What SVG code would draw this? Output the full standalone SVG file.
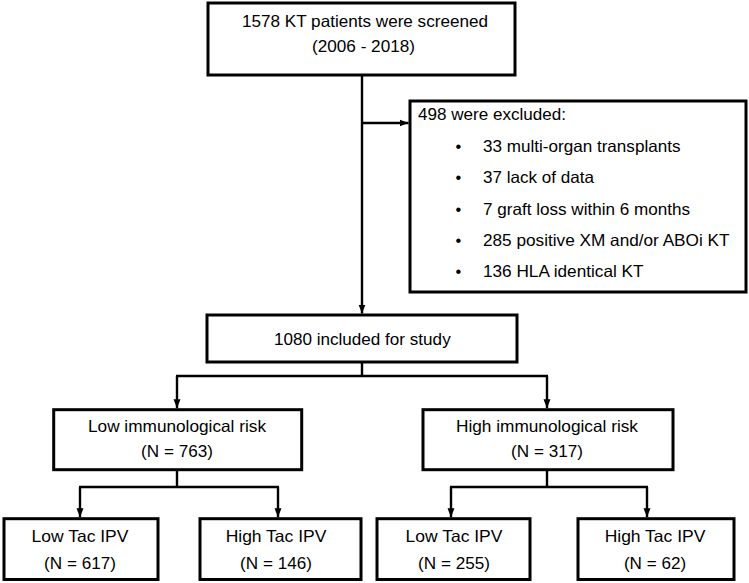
<svg xmlns="http://www.w3.org/2000/svg" width="749" height="583" viewBox="0 0 749 583">
<style>
.box{fill:#fff;stroke:#000;stroke-width:3}
.t{font-family:"Liberation Sans",Arial,sans-serif;font-size:16.5px;fill:#000}
.c{text-anchor:middle}
.ln{stroke:#000;stroke-width:2.4;fill:none}
</style>
<defs>
<marker id="ah" markerWidth="9" markerHeight="8" refX="9" refY="4" orient="auto" markerUnits="userSpaceOnUse"><path d="M0,0.5 L9,4 L0,7.5 z" fill="#000"/></marker>
</defs>
<rect width="749" height="583" fill="#fff"/>
<g id="connectors">
<path class="ln" d="M362,75 V313.5" marker-end="url(#ah)"/>
<path class="ln" d="M362,123 H408.5" marker-end="url(#ah)"/>
<path class="ln" d="M362,362 V376 M176,376 H548"/>
<path class="ln" d="M177,376 V408.2" marker-end="url(#ah)"/>
<path class="ln" d="M547,376 V408.2" marker-end="url(#ah)"/>
<path class="ln" d="M177,470 V487 M79,487 H279"/>
<path class="ln" d="M80,487 V517.2" marker-end="url(#ah)"/>
<path class="ln" d="M278,487 V517.2" marker-end="url(#ah)"/>
<path class="ln" d="M547,470 V487 M450,487 H648"/>
<path class="ln" d="M451,487 V517.2" marker-end="url(#ah)"/>
<path class="ln" d="M647,487 V517.2" marker-end="url(#ah)"/>
</g>
<g id="screened">
<rect class="box" x="208" y="3" width="307" height="72"/>
<text class="t c" x="365" y="26.5" textLength="246" lengthAdjust="spacingAndGlyphs">1578 KT patients were screened</text>
<text class="t c" x="363.5" y="52" textLength="103" lengthAdjust="spacingAndGlyphs">(2006 - 2018)</text>
</g>
<g id="excluded">
<rect class="box" x="410" y="101" width="336" height="191"/>
<text class="t" x="418" y="120" textLength="148" lengthAdjust="spacingAndGlyphs">498 were excluded:</text>
<text class="t c" x="458.5" y="151.5">•</text>
<text class="t" x="483" y="151.5" textLength="197.5" lengthAdjust="spacingAndGlyphs">33 multi-organ transplants</text>
<text class="t c" x="458.5" y="183">•</text>
<text class="t" x="483" y="183" textLength="111" lengthAdjust="spacingAndGlyphs">37 lack of data</text>
<text class="t c" x="458.5" y="214.5">•</text>
<text class="t" x="483" y="214.5" textLength="207" lengthAdjust="spacingAndGlyphs">7 graft loss within 6 months</text>
<text class="t c" x="458.5" y="246">•</text>
<text class="t" x="483" y="246" textLength="246.5" lengthAdjust="spacingAndGlyphs">285 positive XM and/or ABOi KT</text>
<text class="t c" x="458.5" y="277">•</text>
<text class="t" x="483" y="277" textLength="160.5" lengthAdjust="spacingAndGlyphs">136 HLA identical KT</text>
</g>
<g id="included">
<rect class="box" x="207" y="315" width="310" height="47"/>
<text class="t c" x="362.3" y="345" textLength="176.8" lengthAdjust="spacingAndGlyphs">1080 included for study</text>
</g>
<g id="low-risk">
<rect class="box" x="53.7" y="409.7" width="248" height="60"/>
<text class="t c" x="177" y="432" textLength="178" lengthAdjust="spacingAndGlyphs">Low immunological risk</text>
<text class="t c" x="177" y="457" textLength="71.8" lengthAdjust="spacingAndGlyphs">(N = 763)</text>
</g>
<g id="high-risk">
<rect class="box" x="423" y="409.7" width="250" height="60"/>
<text class="t c" x="547" y="432" textLength="182" lengthAdjust="spacingAndGlyphs">High immunological risk</text>
<text class="t c" x="547" y="457" textLength="71.8" lengthAdjust="spacingAndGlyphs">(N = 317)</text>
</g>
<g id="low-low-tac">
<rect class="box" x="4" y="518.7" width="154" height="60.8"/>
<text class="t c" x="80" y="542" textLength="96.9" lengthAdjust="spacingAndGlyphs">Low Tac IPV</text>
<text class="t c" x="80" y="569" textLength="71.8" lengthAdjust="spacingAndGlyphs">(N = 617)</text>
</g>
<g id="low-high-tac">
<rect class="box" x="200" y="518.7" width="161" height="60.8"/>
<text class="t c" x="276" y="542" textLength="100.7" lengthAdjust="spacingAndGlyphs">High Tac IPV</text>
<text class="t c" x="276" y="569" textLength="71.8" lengthAdjust="spacingAndGlyphs">(N = 146)</text>
</g>
<g id="high-low-tac">
<rect class="box" x="377" y="518.7" width="153" height="60.8"/>
<text class="t c" x="454" y="542" textLength="96.9" lengthAdjust="spacingAndGlyphs">Low Tac IPV</text>
<text class="t c" x="454" y="569" textLength="71.8" lengthAdjust="spacingAndGlyphs">(N = 255)</text>
</g>
<g id="high-high-tac">
<rect class="box" x="578" y="518.7" width="156" height="60.8"/>
<text class="t c" x="655" y="542" textLength="100.7" lengthAdjust="spacingAndGlyphs">High Tac IPV</text>
<text class="t c" x="655" y="569" textLength="62.2" lengthAdjust="spacingAndGlyphs">(N = 62)</text>
</g>
</svg>
